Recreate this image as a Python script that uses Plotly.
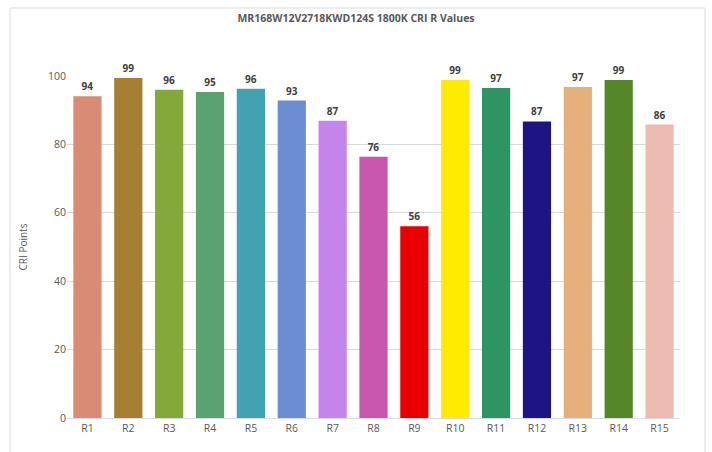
import plotly.graph_objects as go

categories = ["R1", "R2", "R3", "R4", "R5", "R6", "R7", "R8", "R9", "R10", "R11", "R12", "R13", "R14", "R15"]
values = [94.1, 99.4, 96.0, 95.3, 96.3, 92.8, 86.9, 76.4, 56.1, 98.8, 96.5, 86.7, 96.8, 98.8, 85.8]
labels = ["94", "99", "96", "95", "96", "93", "87", "76", "56", "99", "97", "87", "97", "99", "86"]
colors = ["#D98B73", "#A67F34", "#84A839", "#5BA36E", "#41A3B1", "#6B8ED3", "#C583EC", "#C857AE",
          "#E90000", "#FFEB00", "#2E9462", "#1E1485", "#E6B07A", "#558728", "#EDBBB0"]

fig = go.Figure(go.Bar(
    x=categories, y=values, marker=dict(color=colors, line=dict(width=0)),
    text=labels, textposition="outside", cliponaxis=False,
    textfont=dict(family="Open Sans", size=10, color="#404040", weight="bold"),
))

W, H = 712, 452
l, r, t, b = 67, 32, 76, 34
pw, ph = W - l - r, H - t - b

def px_to_paper_x(px):
    return (px - l) / pw

def px_to_paper_y(py):
    return (H - b - py) / ph

fig.update_layout(
    width=W, height=H,
    margin=dict(l=l, r=r, t=t, b=b, autoexpand=False),
    paper_bgcolor="white", plot_bgcolor="white",
    bargap=0.31,
    showlegend=False,
    title=dict(text="<b>MR168W12V2718KWD124S 1800K CRI R Values</b>", x=0.5, xref="container",
               y=1 - 18 / H, yref="container", xanchor="center", yanchor="middle",
               font=dict(family="Open Sans", size=10.5, color="#595959")),
    xaxis=dict(showgrid=False, showline=True, linecolor="#D6DCE5", linewidth=1,
               ticks="", tickfont=dict(family="Open Sans", size=10.5, color="#595959")),
    yaxis=dict(range=[0, 100], dtick=20, showgrid=True, gridcolor="#D9D9D9", gridwidth=1,
               zeroline=False, showline=False, ticks="", ticklen=0,
               tickfont=dict(family="Open Sans", size=10.5, color="#595959"),
               title=dict(text="CRI Points", standoff=18,
                          font=dict(family="Open Sans", size=10, color="#595959"))),
    shapes=[dict(type="rect", xref="paper", yref="paper",
                 x0=px_to_paper_x(10), x1=px_to_paper_x(705),
                 y0=px_to_paper_y(460), y1=px_to_paper_y(8),
                 line=dict(color="#D9D9D9", width=1), fillcolor="rgba(0,0,0,0)", layer="below")],
)

fig.write_html("out.html", config={"displayModeBar": False},
               post_script="document.body.style.margin='0';document.body.style.padding='0';")
